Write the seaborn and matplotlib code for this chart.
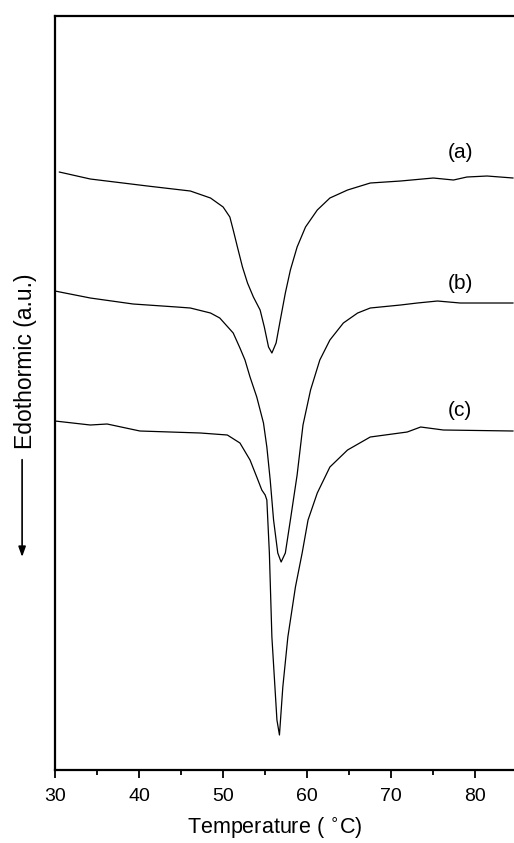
import matplotlib
matplotlib.use('Agg')
import matplotlib.pyplot as plt
from matplotlib.ticker import MultipleLocator
import seaborn as sns
import pandas as pd

# DSC traces (temperature in C, heat flow in arbitrary units)
temp_a = [30.5, 34.2, 41.0, 46.1, 48.5, 50.0, 50.8, 51.2, 51.7, 52.3, 52.9, 53.6, 54.4,
          54.9, 55.4, 55.8, 56.3, 56.8, 57.4, 58.0, 58.8, 59.8, 61.2, 62.7, 64.8, 67.5,
          71.1, 75.0, 77.4, 79.0, 81.4, 84.5]
flow_a = [598, 591, 584, 579, 572, 563, 553, 540, 523, 503, 487, 473, 460,
          443, 423, 417, 427, 450, 477, 500, 523, 543, 560, 572, 580, 587,
          589, 592, 590, 593, 594, 592]

temp_b = [30.0, 34.2, 39.3, 44.5, 46.1, 48.5, 49.6, 51.2, 52.0, 52.6, 53.2, 54.0, 54.8,
          55.2, 55.6, 56.0, 56.5, 56.9, 57.4, 58.0, 58.8, 59.5, 60.4, 61.5, 62.7, 64.3,
          66.0, 67.5, 71.1, 73.1, 75.5, 78.2, 84.5]
flow_b = [479, 472, 466, 463, 462, 457, 452, 437, 422, 410, 393, 373, 347,
          323, 290, 250, 217, 208, 217, 250, 295, 345, 380, 410, 430, 447,
          457, 462, 465, 467, 469, 467, 467]

temp_c = [30.0, 34.2, 36.2, 40.1, 47.3, 50.5, 52.0, 53.2, 54.0, 54.6, 55.0, 55.2, 55.5,
          55.8, 56.4, 56.7, 57.1, 57.7, 58.6, 59.4, 60.1, 61.2, 62.7, 64.8, 67.5, 71.9,
          73.5, 76.2, 84.5]
flow_c = [349, 345, 346, 339, 337, 335, 327, 310, 293, 280, 275, 270, 217,
          133, 50, 35, 83, 133, 183, 217, 250, 277, 303, 320, 333, 338,
          343, 340, 339]

curve_labels = ['(a)', '(b)', '(c)']
label_temp = 78.2
label_flow = [618, 487, 360]

frames = []
for name, t, f in zip(curve_labels, [temp_a, temp_b, temp_c], [flow_a, flow_b, flow_c]):
    frames.append(pd.DataFrame({'temp': t, 'flow': f, 'sample': name}))
df = pd.concat(frames, ignore_index=True)

sns.set_style('ticks')
plt.rcParams['font.family'] = ['Liberation Sans', 'DejaVu Sans']
plt.rcParams['text.color'] = 'black'
plt.rcParams['axes.labelcolor'] = 'black'
plt.rcParams['xtick.color'] = 'black'

fig = plt.figure(figsize=(5.14, 8.43), dpi=100)
ax = fig.add_axes([0.107, 0.0866, 0.893, 0.8944])

sns.lineplot(data=df, x='temp', y='flow', units='sample', estimator=None, sort=False,
             color='black', linewidth=0.9, ax=ax, legend=False)

for lab, yv in zip(curve_labels, label_flow):
    ax.text(label_temp, yv, lab, ha='center', va='center', fontsize=15, color='black')

ax.set_xlim(30, 84.6)
ax.set_ylim(0, 754)
ax.xaxis.set_major_locator(MultipleLocator(10))
ax.xaxis.set_minor_locator(MultipleLocator(5))
ax.set_yticks([])
ax.tick_params(axis='x', which='major', direction='out', length=6, width=1.3,
               labelsize=14, pad=7, colors='black')
ax.tick_params(axis='x', which='minor', direction='out', length=3.5, width=1.3,
               colors='black')

for side in ['left', 'bottom', 'top']:
    ax.spines[side].set_linewidth(1.6)
    ax.spines[side].set_color('black')
ax.spines['right'].set_visible(False)

ax.set_xlabel('Temperature ( $^{\\circ}$C)', fontsize=15.5, va='center', color='black')
ax.xaxis.set_label_coords(0.48, -0.078)
ax.set_ylabel('Edothormic (a.u.)', fontsize=16.5, va='center', color='black')
ax.yaxis.set_label_coords(-0.065, 0.542)

# downward arrow beside the y label
fig.patches.append(matplotlib.patches.FancyArrowPatch(
    (0.043, 0.458), (0.043, 0.336), transform=fig.transFigure,
    arrowstyle='-|>,head_length=0.5,head_width=0.18', mutation_scale=12,
    color='black', linewidth=1.2))

plt.savefig('out.png', dpi=100)
plt.close()
